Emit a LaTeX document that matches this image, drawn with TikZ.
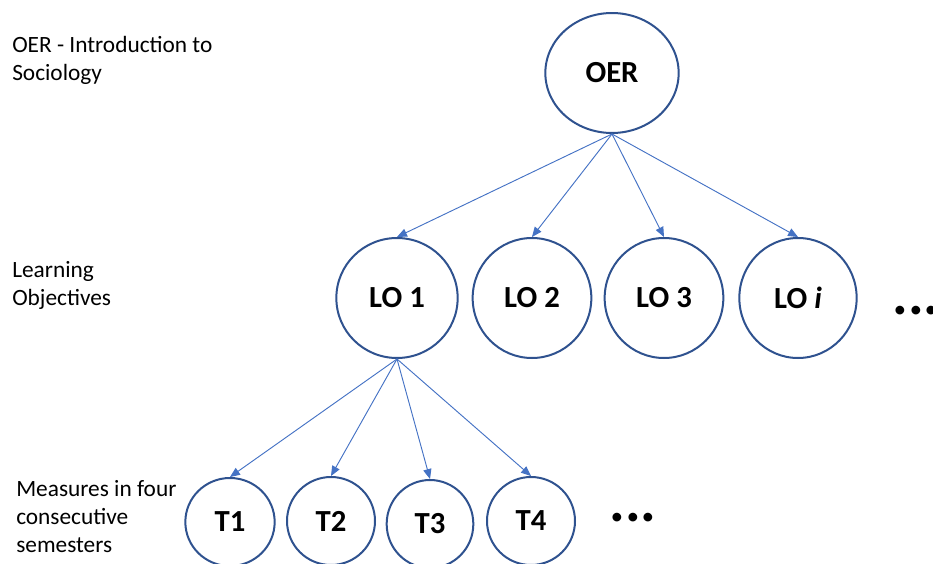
\documentclass[tikz,border=0pt]{standalone}
\usepackage{fontspec}
\setmainfont{Carlito}
\usetikzlibrary{arrows}
\usetikzlibrary{shapes.geometric}
\definecolor{ringblue}{HTML}{2F528F}
\definecolor{linkblue}{HTML}{4472C4}
\tikzset{
  objnode/.style={ellipse,draw=ringblue,line width=1.5pt,inner sep=0pt,font=\fontsize{23}{27}\selectfont\bfseries},
  rowlabel/.style={anchor=north west,align=left,inner sep=0pt,font=\fontsize{17.5}{21}\selectfont},
  link/.style={->,draw=linkblue,line width=0.7pt}
}
\begin{document}
\begin{tikzpicture}[line cap=round,line join=round,>=triangle 45,x=0.75pt,y=-0.75pt]
\useasboundingbox (0,0) rectangle (933,564);
% row labels
\node[rowlabel] (lblOER) at (12,36) {OER - Introduction to\\Sociology};
\node[rowlabel] (lblLO) at (12,261) {Learning\\Objectives};
\node[rowlabel] (lblT) at (16,480) {Measures in four\\consecutive\\semesters};
% top node
\node[objnode,minimum width=100pt,minimum height=90pt] (OER) at (612,73) {OER};
% learning objectives
\node[objnode,minimum width=91pt,minimum height=90pt] (LO1) at (397,298) {LO 1};
\node[objnode,minimum width=89pt,minimum height=90pt] (LO2) at (532,298) {LO 2};
\node[objnode,minimum width=89pt,minimum height=90pt] (LO3) at (664,298) {LO 3};
\node[objnode,minimum width=88pt,minimum height=90pt] (LOi) at (798,298) {LO \textit{i}};
\node[font=\fontsize{44}{44}\selectfont\bfseries] (dotsLO) at (916,311) {...};
% measures
\node[objnode,minimum width=67pt,minimum height=66pt] (T1) at (230,522) {T1};
\node[objnode,minimum width=66pt,minimum height=66pt] (T2) at (331,521) {T2};
\node[objnode,minimum width=65pt,minimum height=66pt] (T3) at (430,524) {T3};
\node[objnode,minimum width=66pt,minimum height=66pt] (T4) at (531,521) {T4};
\node[font=\fontsize{44}{44}\selectfont\bfseries] (dotsT) at (633,518) {...};
% links
\draw[link] (OER.south) -- (LO1.north);
\draw[link] (OER.south) -- (LO2.north);
\draw[link] (OER.south) -- (LO3.north);
\draw[link] (OER.south) -- (LOi.north);
\draw[link] (LO1.south) -- (T1.north);
\draw[link] (LO1.south) -- (T2.north);
\draw[link] (LO1.south) -- (T3.north);
\draw[link] (LO1.south) -- (T4.north);
\end{tikzpicture}
\end{document}
